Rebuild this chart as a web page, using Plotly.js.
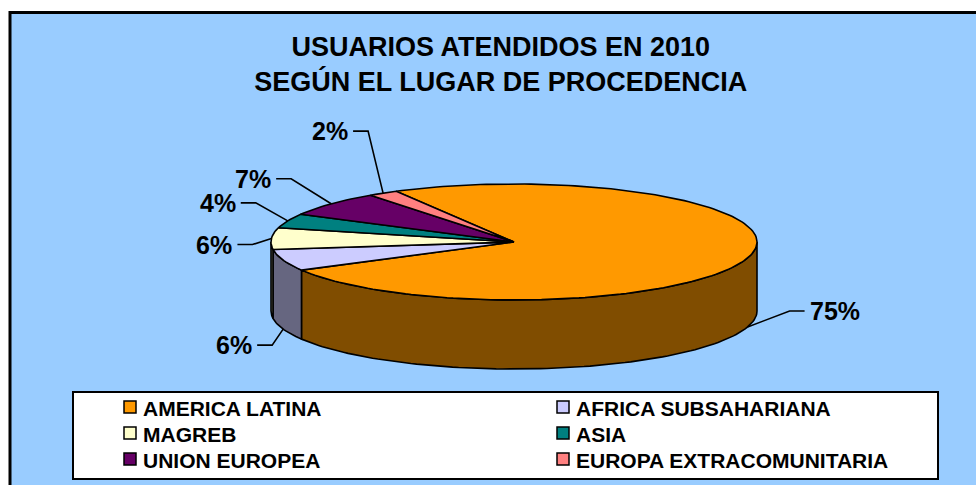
<!DOCTYPE html>
<html><head><meta charset="utf-8">
<script src="https://cdn.plot.ly/plotly-3.0.1.min.js"></script>
<style>html,body{margin:0;padding:0;background:#fff}</style>
</head><body><div id="chart" style="width:976px;height:485px"></div>
<script>
// ---- data ----
const categories = ["AMERICA LATINA","AFRICA SUBSAHARIANA","MAGREB","ASIA","UNION EUROPEA","EUROPA EXTRACOMUNITARIA"];
const values = [75,6,6,4,7,2];
const colors = ["#FF9900","#CCCCFF","#FFFFCC","#008080","#660066","#FF8080"];
const sideColors = ["#804D00","#666680","#808066","#004040","#330033","#804040"];
const titleLines = ["USUARIOS ATENDIDOS EN 2010","SEGÚN EL LUGAR DE PROCEDENCIA"];

// ---- style / geometry ----
const CX=514, CY=242, RX=243, RY=58, DEPTH=69, START=331;
const labelOffsets = [[42,-16],[-11,16],[-19,6],[-32,-18],[-40,-25],[-15,-62]];
const FONT = "Liberation Sans, Arial, sans-serif";

const total = values.reduce((a,b)=>a+b,0);
const rad = d => d*Math.PI/180;
const px = a => CX + RX*Math.sin(rad(a));
const py = a => CY - RY*Math.cos(rad(a));

const sideTraces = [];
const topTraces = [];
let a = START;
const slices = [];
values.forEach((v,i)=>{
  const a0 = a, a1 = a + v/total*360;
  slices.push([a0,a1]);
  a = a1;
});

function arcPts(a0,a1,dy){
  const n = Math.max(2, Math.ceil((a1-a0)/1.5));
  const xs=[], ys=[];
  for(let k=0;k<=n;k++){ const t=a0+(a1-a0)*k/n; xs.push(px(t)); ys.push(py(t)+dy); }
  return [xs,ys];
}

slices.forEach(([a0,a1],i)=>{
  // front side faces
  for(const k of [0,1]){
    const lo = Math.max(a0, 90+360*k), hi = Math.min(a1, 270+360*k);
    if(hi > lo + 0.01){
      const [tx,ty] = arcPts(lo,hi,0);
      const [bx,by] = arcPts(lo,hi,DEPTH);
      sideTraces.push({type:'scatter', mode:'lines', x: tx.concat(bx.slice().reverse(), [tx[0]]),
        y: ty.concat(by.slice().reverse(), [ty[0]]), fill:'toself', fillcolor: sideColors[i],
        line:{color:'#000', width:1.6}, hoverinfo:'skip', showlegend:false});
    }
  }
  // top face
  const [ax,ay] = arcPts(a0,a1,0);
  topTraces.push({type:'scatter', mode:'lines', name: categories[i],
    x:[CX].concat(ax,[CX]), y:[CY].concat(ay,[CY]), fill:'toself', fillcolor: colors[i],
    line:{color:'#000', width:1.6}, hoverinfo:'skip', showlegend:false});
});

// labels and leader lines
const annotations = [];
const leaderTraces = [];
slices.forEach(([a0,a1],i)=>{
  const m = (a0+a1)/2;
  const front = Math.cos(rad(m)) < 0;
  const ax = px(m), ay = py(m) + (front ? DEPTH : 0);
  const ex = ax + labelOffsets[i][0], ey = ay + labelOffsets[i][1];
  const dir = labelOffsets[i][0] >= 0 ? 1 : -1;
  const hx = ex + dir*15;
  leaderTraces.push({type:'scatter', mode:'lines', x:[ax,ex,hx], y:[ay,ey,ey],
    line:{color:'#000', width:1.6}, hoverinfo:'skip', showlegend:false});
  annotations.push({x: hx + dir*3, y: ey, xref:'x', yref:'y', showarrow:false,
    xanchor: dir>0 ? 'left':'right', yanchor:'middle',
    text: Math.round(values[i]/total*100) + '%', font:{family:FONT, size:25, color:'#000', weight:'bold'}});
});

// legend (manual, 2 columns)
const shapes = [
  {type:'rect', xref:'x', yref:'y', x0:10, y0:12.5, x1:1000, y1:520, fillcolor:'#99CCFF', line:{color:'#000', width:3}, layer:'below'},
  {type:'rect', xref:'x', yref:'y', x0:73, y0:392, x1:938, y1:479, fillcolor:'#FFFFFF', line:{color:'#000', width:2}, layer:'below'}
];
const legCols = [124, 557], legRows = [407, 433, 459];
categories.forEach((c,i)=>{
  const col = i%2, row = Math.floor(i/2);
  const x0 = legCols[col], yc = legRows[row];
  shapes.push({type:'rect', xref:'x', yref:'y', x0:x0, x1:x0+12, y0:yc-6, y1:yc+6, fillcolor:colors[i], line:{color:'#000', width:1.5}});
  annotations.push({x:x0+17, y:yc+1, xref:'x', yref:'y', showarrow:false, xanchor:'left', yanchor:'middle',
    text:c, font:{family:FONT, size:21, color:'#000', weight:'bold'}});
});

const data = sideTraces.concat(topTraces, leaderTraces);
const layout = {
  width:976, height:485, margin:{l:0,r:0,t:0,b:0},
  paper_bgcolor:'#FFFFFF', plot_bgcolor:'#FFFFFF',
  xaxis:{range:[0,976], visible:false, fixedrange:true},
  yaxis:{range:[485,0], visible:false, fixedrange:true},
  showlegend:false, hovermode:false,
  title:{text: titleLines.join('<br>'), x:0.513, xanchor:'center', y:1-56/485, yanchor:'middle',
    font:{family:FONT, size:27, color:'#000', weight:'bold'}},
  shapes: shapes, annotations: annotations
};
Plotly.newPlot('chart', data, layout, {displayModeBar:false, staticPlot:true});
</script></body></html>
